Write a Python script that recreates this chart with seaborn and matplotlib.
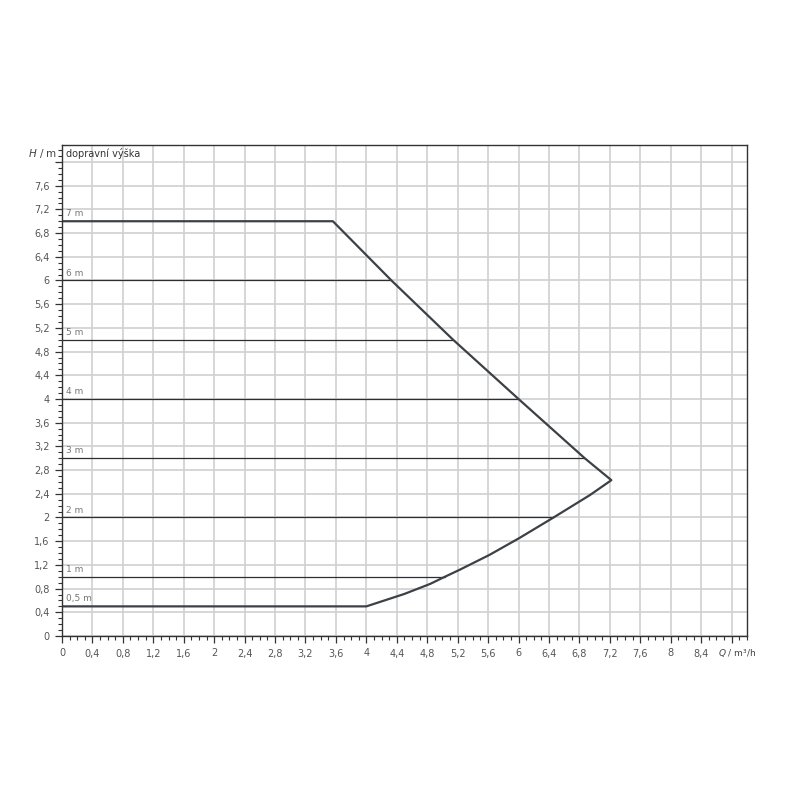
import numpy as np
import pandas as pd
import matplotlib
matplotlib.use("Agg")
import matplotlib.pyplot as plt
from matplotlib.ticker import MultipleLocator, FuncFormatter
import seaborn as sns

# envelope of the pump curve (max speed)
q_upper = [0.0, 3.56, 4.33, 5.14, 6.0, 6.87, 7.22]
h_upper = [7.0, 7.0, 6.0, 5.0, 4.0, 3.0, 2.63]
q_lower = [0.0, 4.0, 4.5, 4.84, 5.0, 5.23, 5.62, 6.02, 6.46, 6.94, 7.22]
h_lower = [0.5, 0.5, 0.71, 0.88, 0.98, 1.12, 1.37, 1.66, 2.0, 2.38, 2.63]

# constant pressure settings
levels = [7, 6, 5, 4, 3, 2, 1, 0.5]
level_labels = ["7 m", "6 m", "5 m", "4 m", "3 m", "2 m", "1 m", "0,5 m"]

sns.set_style("white")
plt.rcParams['font.family'] = ['DejaVu Sans']

fig = plt.figure(figsize=(8, 8), dpi=100)
ax = fig.add_axes([0.0775, 0.205, 0.856, 0.614])

# envelope as one closed path: upper branch then lower branch back to q=0
env = pd.DataFrame({
    "Q": q_upper + q_lower[::-1],
    "H": h_upper + h_lower[::-1],
})

# inner lines for each level, ending on the envelope
rows = []
for lv in levels[1:-1]:
    if lv >= h_upper[-1]:
        q_end = np.interp(lv, h_upper[::-1], q_upper[::-1])
    else:
        q_end = np.interp(lv, h_lower[1:], q_lower[1:])
    rows.append({"level": lv, "Q": 0.0, "H": lv})
    rows.append({"level": lv, "Q": q_end, "H": lv})
inner = pd.DataFrame(rows)

for lv, grp in inner.groupby("level"):
    sns.lineplot(data=grp, x="Q", y="H", ax=ax, color="#2b2f33", lw=0.9,
                 estimator=None, sort=False)

sns.lineplot(data=env, x="Q", y="H", ax=ax, color="#3c4146", lw=1.6,
             estimator=None, sort=False)

for lv, lab in zip(levels, level_labels):
    ax.text(0.05, lv + 0.05, lab, fontsize=6.5, color="#777777",
            ha="left", va="bottom")

ax.set_xlim(0, 9)
ax.set_ylim(0, 8.29)
ax.xaxis.set_major_locator(MultipleLocator(0.4))
ax.xaxis.set_minor_locator(MultipleLocator(0.1))
ax.yaxis.set_major_locator(MultipleLocator(0.4))
ax.yaxis.set_minor_locator(MultipleLocator(0.1))

fmt_x = FuncFormatter(lambda v, p: "" if v > 8.5 else f"{v:.1f}".rstrip("0").rstrip(".").replace(".", ","))
fmt_y = FuncFormatter(lambda v, p: "" if v > 7.7 else f"{v:.1f}".rstrip("0").rstrip(".").replace(".", ","))
ax.xaxis.set_major_formatter(fmt_x)
ax.yaxis.set_major_formatter(fmt_y)

ax.grid(True, which="major", color="#d0d0d0", lw=1.2)
ax.set_axisbelow(True)
ax.tick_params(which="major", direction="out", length=5, width=0.9,
               color="#333333", labelsize=7, labelcolor="#555555", pad=4,
               left=True, bottom=True)
ax.tick_params(which="minor", direction="out", length=3, width=0.8,
               color="#333333", left=True, bottom=True)
for s in ax.spines.values():
    s.set_color("#333333")
    s.set_linewidth(1.0)

ax.set_xlabel("")
ax.set_ylabel("")
ax.text(-0.06, 8.15, r"$\it{H}$ / m", fontsize=7.5, color="#444444",
        ha="right", va="center", clip_on=False)
ax.text(0.05, 8.15, "dopravní výška", fontsize=7, color="#333333",
        ha="left", va="center")
ax.text(8.62, -0.28, r"$\it{Q}$ / m³/h", fontsize=6.5, color="#444444",
        ha="left", va="center", clip_on=False)

fig.savefig("out.png", dpi=100, facecolor="white")
